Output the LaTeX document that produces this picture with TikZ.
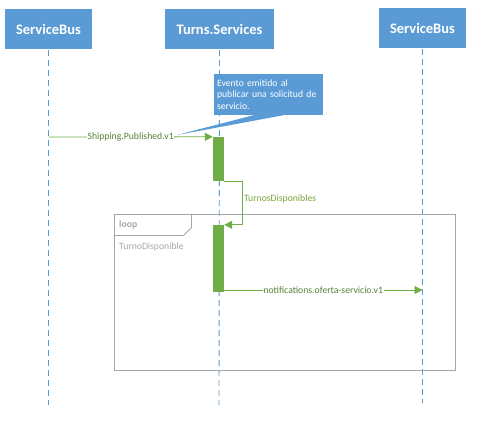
\documentclass[tikz,border=0pt]{standalone}
\usepackage{fontspec}
\setmainfont{Carlito}
\usetikzlibrary{arrows.meta,calc}
\definecolor{boxblue}{HTML}{5B9BD5}
\definecolor{actgreen}{HTML}{70AD47}
\definecolor{msgtext}{HTML}{548235}
\definecolor{selftext}{HTML}{7AA63A}
\definecolor{framegray}{HTML}{A6A6A6}
\tikzset{
  party/.style={fill=boxblue, text=white, font=\fontsize{14.5}{16}\selectfont\bfseries, minimum height=40pt, inner sep=0pt},
  lifeline/.style={draw=boxblue, line width=0.9pt, dash pattern=on 6pt off 4pt},
  actbar/.style={fill=actgreen, minimum width=11pt, inner sep=0pt},
  msg/.style={draw=actgreen, line width=0.8pt, -{Triangle[length=8pt,width=8pt]}},
  msglabel/.style={fill=white, text=msgtext, font=\fontsize{9.7}{11}\selectfont, inner sep=0.5pt},
  notebox/.style={fill=boxblue, text=white, font=\fontsize{9.7}{11.5}\selectfont, align=left, text width=103pt, minimum width=109pt, minimum height=41pt, inner sep=3pt},
  framebox/.style={draw=framegray, line width=1pt, inner sep=0pt},
  frametext/.style={text=framegray, font=\fontsize{9.7}{11}\selectfont, anchor=west, inner sep=0pt}
}
\begin{document}
\begin{tikzpicture}[x=1pt,y=-1pt]
\useasboundingbox (0,0) rectangle (502,440);
% participants
\node[party, minimum width=87pt] (p1) at (48.5,29) {ServiceBus};
\node[party, minimum width=109pt] (p2) at (219.5,29) {Turns.Services};
\node[party, minimum width=87pt] (p3) at (422.5,28) {ServiceBus};
% lifeline ends
\coordinate (e1) at (48.5,405);
\coordinate (e2) at (219,405);
\coordinate (e3) at (422.5,403);
\draw[lifeline] (p1.south) ++(0,1) -- (e1);
\draw[lifeline] (p2.south) ++(0,1) -- (e2);
\draw[lifeline] (p3.south) ++(0,1) -- (e3);
% loop frame
\node[framebox, minimum width=341pt, minimum height=156pt] (loopf) at (284.5,292) {};
\draw[framegray, line width=0.8pt] (loopf.north west) ++(78,0) -- ++(0,14) -- ++(-8,8) -- ++(-70,0);
\node[frametext, font=\fontsize{9.7}{11}\selectfont\bfseries] (looplbl) at (119,225) {loop};
\node[frametext] (loopcond) at (119,247) {TurnoDisponible};
% activation bars
\node[actbar, minimum height=44pt] (a1) at (218.5,159) {};
\node[actbar, minimum height=67pt] (a2) at (218.5,258.5) {};
% note
\node[notebox] (note) at (268.5,94.5) {Evento emitido al\\publicar una solicitud de\\servicio.};
\coordinate (tip) at (177,135);
\fill[boxblue] ($(note.south)+(-15,0)$) -- (tip) -- ($(note.south)+(15,0)$) -- cycle;
% messages
\coordinate (m1) at (48.5,137);
\draw[msg] (m1) -- (a1.north west) node[msglabel, pos=0.5] (l1) {Shipping.Published.v1};
\draw[msg] (a1.south east) -- ++(18,0) |- (a2.north east) node[msglabel, text=selftext, pos=0.2, anchor=west, xshift=1pt] (l2) {TurnosDisponibles};
\coordinate (m3s) at (224,290);
\coordinate (m3e) at (422.5,290);
\draw[msg] (m3s) -- (m3e) node[msglabel, pos=0.5] (l3) {notifications.oferta-servicio.v1};
\end{tikzpicture}
\end{document}
